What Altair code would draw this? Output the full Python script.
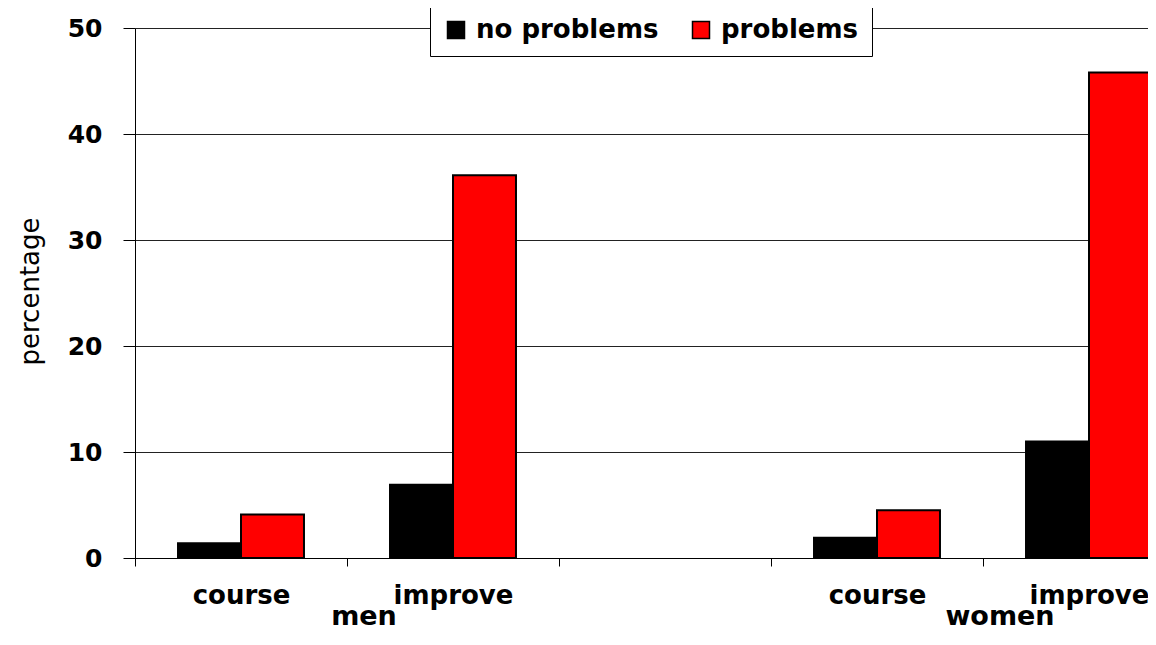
import altair as alt
import pandas as pd

# ---- data ----
slots = ["men course", "men improve", "gap", "women course", "women improve"]
statuses = ["no problems", "problems"]
bar_slots = ["men course", "men course", "men improve", "men improve",
             "women course", "women course", "women improve", "women improve"]
bar_status = ["no problems", "problems"] * 4
bar_values = [1.4, 4.1, 6.9, 36.1, 1.9, 4.5, 11.0, 45.8]
groups = ["men", "women"]
group_slots = ["men improve", "women improve"]
y_ticks = [0, 10, 20, 30, 40, 50]
colors = ["#000000", "#ff0000"]

bars_df = pd.DataFrame({"slot": bar_slots, "status": bar_status, "value": bar_values})
groups_df = pd.DataFrame({"slot": group_slots, "group": groups})

FONT = "DejaVu Sans"

x_scale = alt.Scale(domain=slots, paddingInner=0, paddingOuter=0)
x_axis = alt.Axis(
    title=None,
    labelExpr="(datum.value != null && indexof(datum.value, ' ') > 0) ? split(datum.value, ' ')[1] : ''",
    labelFont=FONT, labelFontSize=26, labelFontWeight="bold", labelColor="black",
    labelPadding=16, labelAngle=0,
    tickBand="extent", tickSize=8, tickColor="black", tickWidth=1,
    domainColor="black", domainWidth=1, grid=False,
)

bars = alt.Chart(bars_df).mark_bar(stroke="black", strokeWidth=2).encode(
    x=alt.X("slot:N", scale=x_scale, axis=x_axis),
    xOffset=alt.XOffset("status:N", scale=alt.Scale(domain=statuses, paddingInner=0, paddingOuter=0.683)),
    y=alt.Y(
        "value:Q",
        scale=alt.Scale(domain=[0, 50], nice=False),
        axis=alt.Axis(
            values=y_ticks, grid=True, gridColor="#222222", gridWidth=1,
            tickSize=12, tickColor="black", domainColor="black",
            labelFont=FONT, labelFontSize=25, labelFontWeight="bold", labelColor="black",
            labelPadding=21,
            title="percentage", titleFont=FONT, titleFontSize=26, titleFontWeight="normal",
            titleColor="black", titleAngle=270, titleAlign="center", titleBaseline="middle",
            titleX=-105, titleY=263,
        ),
    ),
    color=alt.Color(
        "status:N",
        scale=alt.Scale(domain=statuses, range=colors),
        legend=alt.Legend(
            title=None, orient="none", legendX=295, legendY=-24,
            direction="horizontal",
            symbolType="square", symbolSize=289, symbolStrokeColor="black",
            symbolStrokeWidth=1.5,
            labelFont=FONT, labelFontSize=26, labelFontWeight="bold", labelColor="black",
            labelLimit=400, labelOffset=7, columnPadding=29, padding=13,
            strokeColor="black", fillColor="white",
        ),
    ),
)

group_text = alt.Chart(groups_df).mark_text(
    dx=17, baseline="alphabetic", align="center",
    font=FONT, fontSize=27, fontWeight="bold", color="black",
).encode(
    x=alt.X("slot:N", scale=x_scale, axis=x_axis, bandPosition=0),
    y=alt.value(597),
    text="group:N",
)

chart = alt.layer(bars, group_text).properties(
    width=1060,
    height=530,
    autosize=alt.AutoSizeParams(type="none"),
    padding={"left": 127, "top": 20, "right": -47, "bottom": 75},
).configure_view(stroke=None).configure(background="white")

chart.save("out.html", embed_options={"renderer": "svg", "actions": False})
